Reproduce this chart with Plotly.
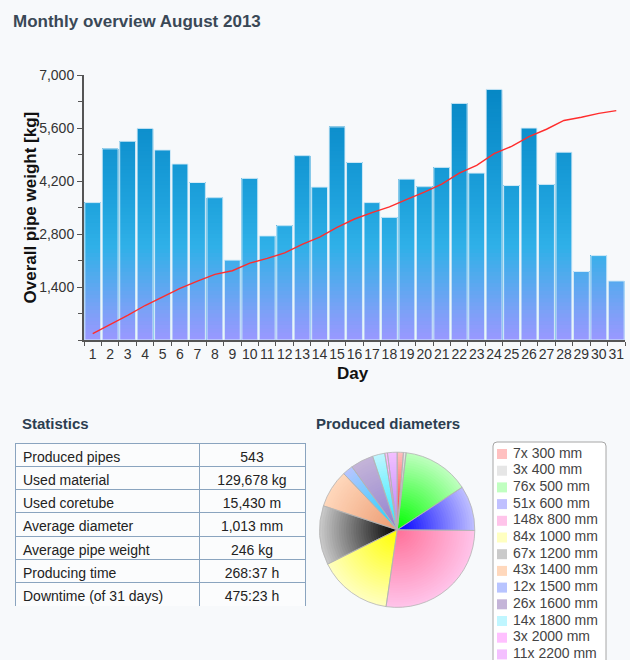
import numpy as np
import plotly.graph_objects as go

W, H = 630, 660
BG = "#f7f9fb"
FONT = "Liberation Sans, Arial, sans-serif"

# ---- data ----
days = [str(d) for d in range(1, 32)]
daily_weight = [3630, 5050, 5250, 5590, 5020, 4650, 4160, 3760, 2110, 4270,
                2750, 3020, 4870, 4040, 5630, 4690, 3630, 3240, 4250, 4050,
                4560, 6250, 4410, 6620, 4080, 5600, 4110, 4960, 1810, 2230, 1560]
cumulative_weight = [3630, 8680, 13930, 19520, 24540, 29190, 33350, 37110, 39220,
                     43490, 46240, 49260, 54130, 58170, 63800, 68490, 72120, 75360,
                     79610, 83660, 88220, 94470, 98880, 105500, 109580, 115180,
                     119290, 124250, 126060, 128290, 129850]

stat_labels = ["Produced pipes", "Used material", "Used coretube", "Average diameter",
               "Average pipe weight", "Producing time", "Downtime (of 31 days)"]
stat_values = ["543", "129,678 kg", "15,430 m", "1,013 mm", "246 kg", "268:37 h", "475:23 h"]

pipe_counts = [7, 3, 76, 51, 148, 84, 67, 43, 12, 26, 14, 3, 11]
diameters = [300, 400, 500, 600, 800, 1000, 1200, 1400, 1500, 1600, 1800, 2000, 2200]

# slice colours: centre of the radial gradient -> rim (rim = legend swatch)
slice_inner = ["#ff2020", "#a8a8a8", "#00ff00", "#0000ff", "#ff7098", "#ffff00", "#000000",
               "#ec9a70", "#10d8ff", "#9080d0", "#20e8ff", "#ff70ff", "#b080ff"]
slice_outer = ["#ffc0c0", "#e6e6e6", "#c0ffc0", "#c0c0ff", "#ffc4ea", "#ffffc0", "#cacaca",
               "#ffd8bc", "#b8c4ff", "#c4b4d8", "#c0f6ff", "#ffc0ff", "#f4c0ff"]


def px(x):
    return x / W


def py(y):
    return 1 - y / H


def hex_rgb(c):
    c = c.lstrip("#")
    return np.array([int(c[i:i + 2], 16) for i in (0, 2, 4)], dtype=float)


def mix(c1, c2, t):
    r, g, b = hex_rgb(c1) * (1 - t) + hex_rgb(c2) * t
    return f"rgb({r:.0f},{g:.0f},{b:.0f})"


bar_stops = [(0.0, "#9a98ff"), (0.1, "#7ea0f8"), (0.2, "#5ea8f0"), (0.35, "#30b0e8"),
             (0.5, "#20a4de"), (0.75, "#1092cf"), (1.0, "#0484c2")]


def bar_color(t):
    for (t0, c0), (t1, c1) in zip(bar_stops[:-1], bar_stops[1:]):
        if t <= t1:
            return mix(c0, c1, (t - t0) / (t1 - t0))
    return bar_stops[-1][1]


fig = go.Figure()

# ---- bar chart with vertical gradient (overlaid bands) ----
ymax = 7000
for top in range(ymax, 0, -100):
    fig.add_trace(go.Bar(
        x=days, y=np.minimum(daily_weight, top),
        marker=dict(color=bar_color((top - 50) / ymax), line=dict(width=0)),
        showlegend=False, hoverinfo="skip",
    ))
fig.add_trace(go.Bar(
    x=days, y=daily_weight,
    marker=dict(color="rgba(0,0,0,0)", line=dict(color="#d6ecf8", width=1)),
    showlegend=False, hoverinfo="skip",
))
fig.add_trace(go.Scatter(
    x=days, y=cumulative_weight, yaxis="y2", mode="lines",
    line=dict(color="#ff2d2d", width=1.4), showlegend=False, hoverinfo="skip",
))

# ---- pie with radial gradient (stacked discs, large to small) ----
cx, cy, R = 397.2, 529.8, 77.6
rings = 32
for k in range(rings):
    r = R * (rings - k) / rings
    t = (r - R / rings / 2) / R
    fig.add_trace(go.Pie(
        values=pipe_counts, sort=False, direction="clockwise", rotation=0,
        marker=dict(colors=[mix(a, b, t) for a, b in zip(slice_inner, slice_outer)],
                    line=dict(width=0)),
        textinfo="none", hoverinfo="skip", showlegend=False,
        domain=dict(x=[px(cx - r), px(cx + r)], y=[py(cy + r), py(cy - r)]),
    ))
fig.add_trace(go.Pie(
    values=pipe_counts, sort=False, direction="clockwise", rotation=0,
    marker=dict(colors=["rgba(0,0,0,0)"] * len(pipe_counts),
                line=dict(color="#b4b4b4", width=0.8)),
    textinfo="none", hoverinfo="skip", showlegend=False,
    domain=dict(x=[px(cx - R), px(cx + R)], y=[py(cy + R), py(cy - R)]),
))

# ---- legend for the pie, drawn on its own hidden axes ----
legend_text = [f"{n}x {d} mm" for n, d in zip(pipe_counts, diameters)]
legend_rows = list(range(len(legend_text)))
fig.add_trace(go.Scatter(
    x=[0] * len(legend_rows), y=legend_rows, xaxis="x3", yaxis="y3", mode="markers",
    marker=dict(symbol="square", size=10, color=slice_outer, line=dict(width=0)),
    showlegend=False, hoverinfo="skip", cliponaxis=False,
))
fig.add_trace(go.Scatter(
    x=[11] * len(legend_rows), y=legend_rows, xaxis="x3", yaxis="y3", mode="text",
    text=legend_text, textposition="middle right",
    textfont=dict(family=FONT, size=14, color="#444444"),
    showlegend=False, hoverinfo="skip", cliponaxis=False,
))

# ---- statistics table (first row used as header, styled like the cells) ----
cell_style = dict(
    align=["left", "center"], height=23.3,
    fill=dict(color="#fbfcfd"),
    line=dict(color="#8aa4bf", width=1),
    font=dict(family=FONT, size=14, color="#222222"),
)
fig.add_trace(go.Table(
    domain=dict(x=[px(15), px(305)], y=[py(606), py(443)]),
    columnwidth=[184, 106],
    header=dict(values=[stat_labels[0], stat_values[0]], **cell_style),
    cells=dict(values=[stat_labels[1:], stat_values[1:]], **cell_style),
))

row_step = 16.7
axis_title_font = dict(family=FONT, size=17, color="#111111")
fig.update_layout(
    width=W, height=H,
    margin=dict(l=0, r=0, t=0, b=0, pad=0, autoexpand=False),
    showlegend=False,
    paper_bgcolor=BG, plot_bgcolor="rgba(0,0,0,0)",
    barmode="overlay", bargap=0.09,
    hovermode=False,
    font=dict(family=FONT, size=14, color="#333333"),
    xaxis=dict(
        domain=[px(84), px(625)], type="category", range=[-0.5, 30.5],
        tickson="boundaries", ticks="outside", ticklen=4, tickcolor="#555555",
        tickangle=0, showline=True, linecolor="#555555", linewidth=2,
        showgrid=False, tickfont=dict(size=14, color="#333333"),
    ),
    yaxis=dict(
        domain=[py(340), py(75)], range=[0, ymax],
        tickvals=[1400, 2800, 4200, 5600, 7000], tickformat=",",
        ticks="outside", ticklen=5, tickcolor="#555555",
        minor=dict(dtick=700, ticks="outside", ticklen=4, tickcolor="#555555"),
        showline=True, linecolor="#555555", linewidth=2,
        showgrid=False, zeroline=False, tickfont=dict(size=14, color="#333333"),
    ),
    yaxis2=dict(overlaying="y", range=[0, 150000], visible=False),
    xaxis3=dict(domain=[px(493), px(606)], range=[-9, 104], visible=False),
    yaxis3=dict(domain=[0, py(442)], anchor="x3",
                range=[(H - 454) / row_step, (442 - 454) / row_step], visible=False),
    shapes=[dict(
        type="path", xref="paper", yref="paper", layer="below",
        path=(f"M {px(493)},{py(670)} L {px(493)},{py(446)} "
              f"Q {px(493)},{py(442)} {px(497)},{py(442)} L {px(602)},{py(442)} "
              f"Q {px(606)},{py(442)} {px(606)},{py(446)} L {px(606)},{py(670)} Z"),
        fillcolor="#ffffff", line=dict(color="#a6a6a6", width=1),
    )],
    annotations=[
        dict(text="<b>Monthly overview August 2013</b>", x=px(11), y=py(21),
             xref="paper", yref="paper", xanchor="left", yanchor="middle",
             showarrow=False, font=dict(size=17, color="#3a4856")),
        dict(text="<b>Overall pipe weight [kg]</b>", x=px(30), y=py(207.5), textangle=-90,
             xref="paper", yref="paper", xanchor="center", yanchor="middle",
             showarrow=False, font=axis_title_font),
        dict(text="<b>Day</b>", x=px(353), y=py(373), borderpad=0,
             xref="paper", yref="paper", xanchor="center", yanchor="middle",
             showarrow=False, font=axis_title_font),
        dict(text="<b>Statistics</b>", x=px(20), y=py(423),
             xref="paper", yref="paper", xanchor="left", yanchor="middle",
             showarrow=False, font=dict(size=15, color="#2c3e50")),
        dict(text="<b>Produced diameters</b>", x=px(314), y=py(423),
             xref="paper", yref="paper", xanchor="left", yanchor="middle",
             showarrow=False, font=dict(size=15, color="#2c3e50")),
    ],
)

page_fix = (
    "var gd=document.getElementById('{plot_id}');"
    "gd.style.position='absolute';gd.style.left='0px';gd.style.top='0px';"
    "document.body.style.margin='0';document.body.style.overflow='hidden';"
    "document.documentElement.style.overflow='hidden';"
)
fig.write_html("out.html", config={"displayModeBar": False}, post_script=page_fix)
